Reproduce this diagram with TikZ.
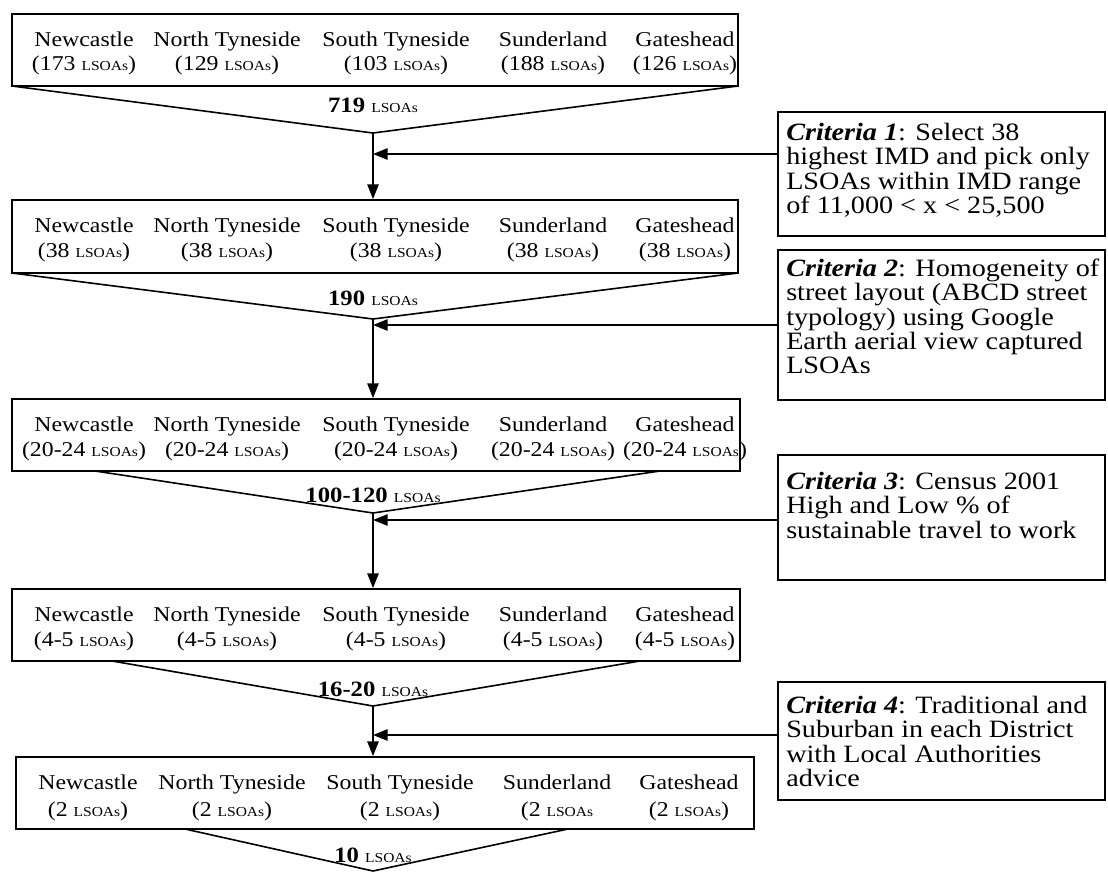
\documentclass[tikz,border=0pt]{standalone}
\usepackage{fontspec}
\setmainfont{Liberation Serif}[FakeStretch=1.13]
\usetikzlibrary{arrows.meta,fit}
\newcommand{\lsoa}{{\fontsize{10.3}{12}\selectfont LSOAs}}

\begin{document}
\begin{tikzpicture}
[x=0.75pt,y=-0.75pt,
  boxDecorate/.style={draw,line width=1.4pt,inner sep=0pt},%
  lineDecorate/.style={-,line width=1.2pt},%
  arrowDecorate/.style={-{Triangle[length=11pt,width=8.5pt]},line width=1.2pt},%
  nameDecorate/.style={anchor=base,inner sep=0pt,font=\fontsize{15.8}{18}\selectfont},%
  sumDecorate/.style={anchor=base,inner sep=0pt,font=\fontsize{16.4}{18}\selectfont\bfseries},%
  critDecorate/.style={anchor=base west,inner sep=0pt,font=\fontsize{18.7}{18.3}\selectfont}]
\useasboundingbox (0,0) rectangle (1108,872);
%% district boxes
\foreach \i/\top/\bot/\lft/\rgt in {
  1/14/86/12/738, 2/200/273/12/738, 3/399/471/12/740, 4/589/661/12/740, 5/757/829/16/754}
{
  \node (box\i) [boxDecorate,fit={(\lft,\top) (\rgt,\bot)}] {};
}
%% district names
\foreach \i/\top in {1/14, 2/200, 3/399, 4/589}
{
  \foreach \j/\cx/\name in {
    1/84/Newcastle, 2/227/North Tyneside, 3/396/South Tyneside, 4/553/Sunderland, 5/685/Gateshead}
  {
    \node (name\i\j) at (\cx,\top+32) [nameDecorate] {\name};
  }
}
\foreach \j/\cx/\name in {
  1/88/Newcastle, 2/232/North Tyneside, 3/400/South Tyneside, 4/557/Sunderland, 5/689/Gateshead}
{
  \node (name5\j) at (\cx,789) [nameDecorate] {\name};
}
%% counts
\foreach \j/\cx/\cnt in {1/84/173, 2/227/129, 3/396/103, 4/553/188, 5/685/126}
{
  \node (cnt1\j) at (\cx,70) [nameDecorate] {(\cnt\ \lsoa)};
}
\foreach \i/\y/\cnt in {2/257/38, 3/456/20-24, 4/646/4-5}
{
  \foreach \j/\cx in {1/84, 2/227, 3/396, 4/553, 5/685}
  {
    \node (cnt\i\j) at (\cx,\y) [nameDecorate] {(\cnt\ \lsoa)};
  }
}
\foreach \j/\cx/\txt in {
  1/88/(2 \lsoa), 2/232/(2 \lsoa), 3/400/(2 \lsoa), 4/557/(2 \lsoa, 5/689/(2 \lsoa)}
{
  \node (cnt5\j) at (\cx,816) [nameDecorate] {\txt};
}
%% funnels
\foreach \i/\xl/\xr/\yb/\yv in {
  1/12/738/86/133, 2/12/738/273/319, 3/95/660/471/513, 4/112/640/661/706, 5/185/568/829/871}
{
  \coordinate (vl\i) at (\xl,\yb);
  \coordinate (vr\i) at (\xr,\yb);
  \coordinate (v\i) at (373,\yv);
  \draw[lineDecorate] (vl\i) -- (v\i) -- (vr\i);
}
\foreach \i/\y/\num in {1/112/719, 2/305/190, 3/502/100-120, 4/696/16-20, 5/862/10}
{
  \node (sum\i) at (373,\y) [sumDecorate] {\num\ {\mdseries\lsoa}};
}
%% flow arrows
\foreach \startnode/\endnode in {1/2, 2/3, 3/4, 4/5}
{
  \draw[arrowDecorate] (v\startnode) -- (v\startnode |- box\endnode.north);
}
%% criteria boxes and their lines of text
\foreach \i/\top/\bot in {1/112/236, 2/250/400, 3/455/580, 4/682/800}
{
  \node (crit\i) [boxDecorate,fit={(778,\top) (1105,\bot)}] {};
}
\foreach \k/\y/\txt in {
  1/140/{\textbf{\textit{Criteria 1}}: Select 38},
  2/164/highest IMD and pick only,
  3/189/LSOAs within IMD range,
  4/213/of 11{,}000 < x < 25{,}500}
{
  \node (crit1t\k) at (786,\y) [critDecorate] {\txt};
}
\foreach \k/\y/\txt in {
  1/276/{\textbf{\textit{Criteria 2}}: Homogeneity of},
  2/300/street layout (ABCD street,
  3/325/typology) using Google,
  4/349/Earth aerial view captured,
  5/373/LSOAs}
{
  \node (crit2t\k) at (786,\y) [critDecorate] {\txt};
}
\foreach \k/\y/\txt in {
  1/489/{\textbf{\textit{Criteria 3}}: Census 2001},
  2/513/High and Low \% of,
  3/538/sustainable travel to work}
{
  \node (crit3t\k) at (786,\y) [critDecorate] {\txt};
}
\foreach \k/\y/\txt in {
  1/713/{\textbf{\textit{Criteria 4}}: Traditional and},
  2/737/Suburban in each District,
  3/762/with Local Authorities,
  4/786/advice}
{
  \node (crit4t\k) at (786,\y) [critDecorate] {\txt};
}
%% criteria arrows
\foreach \i/\y in {1/154, 2/325, 3/520, 4/735}
{
  \coordinate (hit\i) at (373,\y);
  \draw[arrowDecorate] (crit\i.west |- hit\i) -- (hit\i);
}
\end{tikzpicture}
\end{document}
